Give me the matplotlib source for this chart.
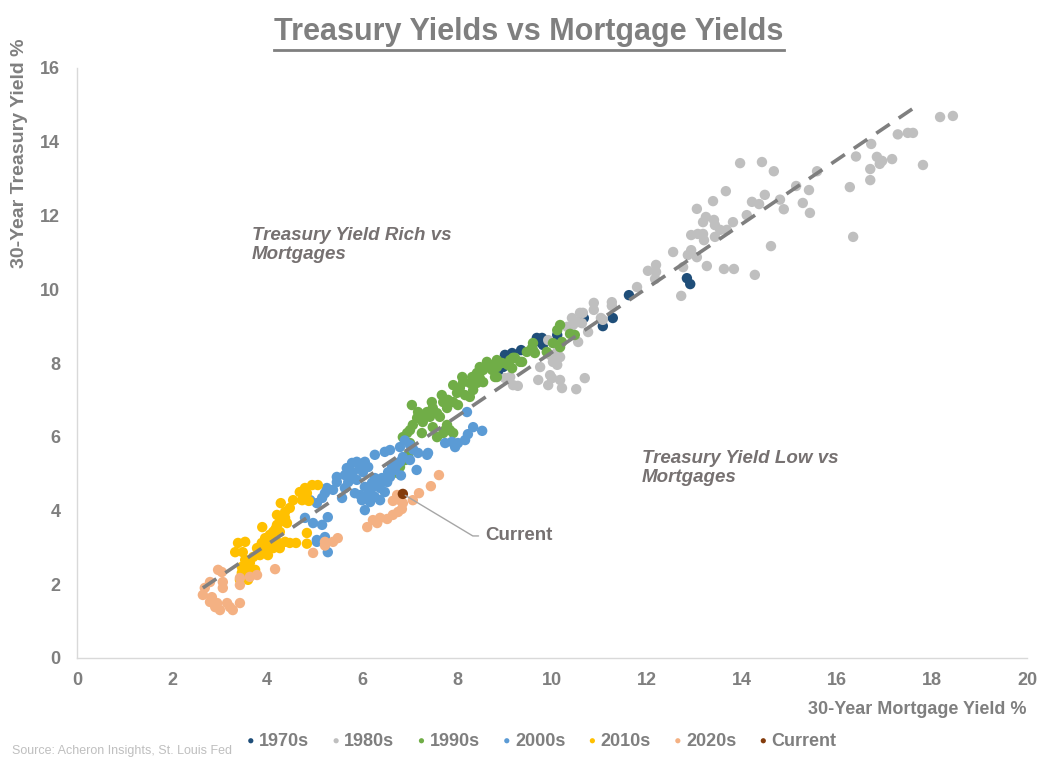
import matplotlib
matplotlib.use("Agg")
import matplotlib.pyplot as plt
from matplotlib.lines import Line2D

plt.rcParams['font.family'] = ['Liberation Sans Narrow', 'Liberation Sans', 'DejaVu Sans']

GREY = "#7f7f7f"

# 30-year mortgage yield (x) vs 30-year treasury yield (y)
x70 = [12.84, 12.91, 11.62, 11.28, 11.07, 10.67, 10.11, 9.79, 9.75, 9.81, 9.35, 9.16, 9.01, 8.97, 8.86, 9.68]
y70 = [10.30, 10.14, 9.84, 9.22, 9.00, 9.22, 8.76, 8.68, 8.57, 8.49, 8.35, 8.27, 8.22, 7.89, 7.73, 8.68]

x80 = [18.17, 18.44, 17.28, 17.49, 17.6, 17.81, 16.72, 16.4, 16.84, 16.9,
       16.95, 17.16, 16.7, 16.7, 16.27, 16.34, 15.58, 15.41, 15.28, 15.43,
       15.14, 14.88, 14.8, 14.61, 14.27, 14.42, 13.96, 14.67, 14.48, 14.21,
       14.36, 14.1, 13.66, 13.39, 13.81, 13.05, 13.18, 13.24, 13.41, 13.43,
       13.54, 13.68, 12.93, 13.07, 13.18, 13.2, 13.43, 12.93, 12.55, 12.86,
       13.05, 13.26, 13.62, 13.83, 12.76, 12.19, 12.02, 12.19, 12.17, 12.72,
       11.79, 11.26, 11.26, 10.88, 10.88, 11.07, 10.76, 10.59, 10.53, 10.42,
       10.44, 10.63, 10.32, 10.55, 9.92, 9.96, 10.11, 10.17, 10.02, 10.11,
       9.75, 9.96, 10.0, 10.17, 9.71, 9.92, 10.21, 10.51, 10.69, 9.18,
       9.28, 9.12, 9.01, 10.65, 11.03]
y80 = [14.67, 14.70, 14.2, 14.24, 14.24, 13.37, 13.94, 13.6, 13.59, 13.4,
       13.48, 13.53, 13.26, 12.96, 12.77, 11.42, 13.2, 12.69, 12.34, 12.07,
       12.8, 12.17, 12.43, 11.17, 10.39, 13.45, 13.42, 13.2, 12.56, 12.37,
       12.31, 12.01, 12.66, 12.39, 11.82, 12.18, 11.82, 11.96, 11.88, 11.74,
       11.61, 11.61, 11.47, 11.5, 11.5, 11.33, 11.42, 11.06, 11.01, 10.93,
       10.87, 10.63, 10.55, 10.55, 10.6, 10.66, 10.5, 10.47, 10.28, 9.82,
       10.06, 9.65, 9.55, 9.63, 9.44, 9.17, 8.84, 9.36, 9.11, 9.22,
       9.03, 9.08, 8.98, 8.57, 8.62, 8.22, 8.3, 8.16, 8.03, 7.95,
       7.89, 7.67, 7.59, 7.54, 7.54, 7.4, 7.32, 7.29, 7.59, 7.4,
       7.38, 7.62, 7.59, 9.36, 9.22]

x90 = [10.17, 10.11, 10.38, 10.48, 10.21, 10.17, 10.02, 9.6, 9.6, 9.47,
       9.89, 9.22, 9.37, 8.84, 8.76, 8.95, 9.16, 8.84, 9.12, 9.58,
       9.64, 9.18, 9.33, 8.91, 9.07, 8.69, 8.84, 8.55, 8.74, 8.8,
       8.42, 8.48, 8.32, 8.11, 8.13, 8.27, 8.42, 8.55, 7.92, 8.06,
       8.34, 8.0, 8.17, 8.27, 7.68, 7.81, 7.47, 7.71, 7.92, 8.02,
       7.49, 7.79, 7.37, 7.18, 7.58, 7.43, 7.16, 7.64, 7.28, 7.07,
       7.49, 7.01, 7.79, 7.85, 7.92, 7.71, 6.86, 7.58, 8.48, 8.63,
       7.75, 7.26, 6.95, 7.01, 6.97, 6.91, 6.8, 6.74, 7.05, 7.3]
y90 = [9.03, 8.89, 8.79, 8.76, 8.57, 8.43, 8.54, 8.54, 8.35, 8.3,
       8.3, 8.14, 8.03, 8.08, 7.95, 8.0, 7.86, 7.62, 8.08, 8.41,
       8.27, 8.14, 8.03, 8.0, 7.95, 7.95, 7.89, 7.81, 7.81, 7.62,
       7.73, 7.59, 7.62, 7.62, 7.48, 7.46, 7.46, 7.48, 7.4, 7.32,
       7.27, 7.19, 7.13, 7.08, 7.13, 7.0, 6.94, 6.94, 6.94, 6.86,
       6.78, 6.78, 6.67, 6.67, 6.64, 6.54, 6.51, 6.54, 6.4, 6.32,
       6.26, 6.18, 6.32, 6.18, 6.1, 6.1, 5.99, 5.99, 7.89, 8.03,
       6.18, 6.1, 6.1, 5.83, 5.51, 5.37, 5.18, 5.02, 6.86, 6.6]

x00 = [8.21, 8.34, 8.53, 8.23, 8.17, 8.02, 7.89, 7.75, 7.96, 7.39,
       7.37, 7.18, 7.01, 6.8, 6.59, 6.48, 6.86, 7.01, 6.8, 6.63,
       6.69, 6.55, 6.27, 6.06, 5.89, 5.79, 5.68, 5.96, 6.13, 5.81,
       6.02, 5.64, 5.75, 5.47, 5.47, 5.71, 5.89, 6.27, 6.42, 6.21,
       6.34, 6.53, 6.59, 6.06, 6.21, 6.38, 6.48, 5.64, 5.39, 5.58,
       5.85, 5.96, 6.13, 6.27, 6.0, 6.17, 6.38, 5.22, 5.16, 5.26,
       5.05, 4.91, 6.06, 4.8, 4.97, 5.16, 5.28, 5.05, 5.22, 5.05,
       5.28, 7.08, 6.9, 6.74, 7.15, 6.82]
y00 = [6.67, 6.26, 6.16, 6.07, 5.91, 5.83, 5.86, 5.83, 5.72, 5.56,
       5.51, 5.56, 5.78, 5.72, 5.64, 5.59, 5.45, 5.37, 5.32, 5.23,
       5.1, 5.04, 5.51, 5.32, 5.32, 5.29, 5.15, 5.18, 5.18, 5.04,
       5.04, 4.96, 4.88, 4.91, 4.77, 4.77, 4.83, 4.88, 4.88, 4.75,
       4.75, 4.77, 4.91, 4.64, 4.61, 4.61, 4.5, 4.61, 4.56, 4.34,
       4.47, 4.42, 4.42, 4.37, 4.28, 4.23, 4.28, 4.47, 4.34, 4.61,
       4.2, 4.28, 4.01, 3.8, 3.66, 3.61, 3.82, 3.2, 3.28, 3.15,
       2.87, 5.65, 5.9, 5.25, 5.1, 4.95]

x10 = [5.07, 4.95, 4.8, 4.84, 4.69, 4.55, 4.74, 4.88, 4.29, 4.48,
       4.38, 4.21, 4.38, 4.27, 4.42, 4.21, 4.13, 4.27, 4.06, 3.96,
       4.11, 3.89, 4.02, 4.21, 4.38, 4.48, 4.61, 4.84, 3.79, 3.96,
       4.13, 4.27, 3.85, 4.02, 3.71, 3.39, 3.54, 3.33, 3.49, 3.54,
       3.64, 3.47, 3.6, 3.75, 3.47, 3.58, 3.6, 3.43, 3.71, 4.84,
       4.18, 3.9]
y10 = [4.69, 4.69, 4.61, 4.47, 4.5, 4.28, 4.28, 4.26, 4.2, 4.07,
       3.96, 3.88, 3.8, 3.69, 3.66, 3.61, 3.42, 3.42, 3.34, 3.25,
       3.2, 3.12, 3.06, 3.15, 3.15, 3.12, 3.12, 3.39, 2.98, 2.93,
       2.98, 2.98, 2.79, 2.79, 2.74, 3.12, 3.15, 2.87, 2.87, 2.66,
       2.58, 2.47, 2.39, 2.39, 2.31, 2.2, 2.12, 2.12, 2.31, 3.1,
       3.5, 3.55]

x20 = [2.97, 3.05, 2.8, 3.07, 2.69, 3.07, 2.65, 2.84, 2.8, 2.95,
       2.91, 3.01, 3.16, 3.22, 3.28, 3.43, 3.43, 3.43, 3.64, 3.79,
       4.17, 4.97, 5.22, 5.39, 5.49, 6.11, 6.23, 6.38, 6.53, 6.32,
       6.65, 6.76, 6.84, 6.86, 6.8, 6.65, 6.74, 7.07, 7.2, 7.45,
       7.62, 5.22]
y20 = [2.39, 2.33, 2.06, 2.06, 1.9, 1.9, 1.71, 1.65, 1.52, 1.49,
       1.38, 1.3, 1.49, 1.38, 1.3, 1.49, 2.17, 1.98, 2.2, 2.25,
       2.41, 2.85, 3.15, 3.15, 3.25, 3.55, 3.74, 3.8, 3.77, 3.66,
       3.88, 3.96, 4.04, 4.2, 4.28, 4.26, 4.42, 4.28, 4.47, 4.66,
       4.96, 3.05]

cur_x = [6.86]
cur_y = [4.45]

trend_x = [2.65, 17.77]
trend_y = [1.9, 15.05]

series = [
    ("1970s", x70, y70, "#1f4e79"),
    ("1980s", x80, y80, "#bfbfbf"),
    ("1990s", x90, y90, "#70ad47"),
    ("2000s", x00, y00, "#5b9bd5"),
    ("2010s", x10, y10, "#ffc000"),
    ("2020s", x20, y20, "#f4b183"),
    ("Current", cur_x, cur_y, "#843c0c"),
]

fig = plt.figure(figsize=(10.58, 7.69), dpi=100)
ax = fig.add_axes([77 / 1058, 1 - 658 / 769, 950 / 1058, 590 / 769])

for name, xs, ys, col in series:
    ax.scatter(xs, ys, s=56, color=col, edgecolors="none", label=name)

ax.plot(trend_x, trend_y, color=GREY, lw=2.6, dashes=(4.5, 3), zorder=5)

ax.set_xlim(0, 20)
ax.set_ylim(0, 16)
ax.set_xticks(range(0, 21, 2))
ax.set_yticks(range(0, 17, 2))
ax.tick_params(length=0, labelsize=13, labelcolor=GREY)
ax.tick_params(axis="y", pad=12)
ax.tick_params(axis="x", pad=10)
for lab in ax.get_xticklabels() + ax.get_yticklabels():
    lab.set_fontweight("bold")
for s in ["top", "right"]:
    ax.spines[s].set_visible(False)
for s in ["left", "bottom"]:
    ax.spines[s].set_color("#d9d9d9")
    ax.spines[s].set_linewidth(1)

# region labels
ax.text(3.68, 11.7, "Treasury Yield Rich vs\nMortgages", fontsize=13.5, style="italic",
        fontweight="bold", color="#767171", va="top", ha="left", linespacing=1.15)
ax.text(11.89, 5.65, "Treasury Yield Low vs\nMortgages", fontsize=13.5, style="italic",
        fontweight="bold", color="#767171", va="top", ha="left", linespacing=1.15)

ax.annotate("Current", xy=(cur_x[0], cur_y[0]), xytext=(8.6, 3.31),
            fontsize=13.5, color="#767171", fontweight="bold", va="center", ha="left",
            arrowprops=dict(arrowstyle="-", color="#a6a6a6", lw=1,
                            connectionstyle="angle,angleA=180,angleB=149,rad=0",
                            shrinkA=3, shrinkB=2))

# title with underline
title = fig.text(0.5, 1 - 32 / 769, "Treasury Yields vs Mortgage Yields", fontsize=22,
                 fontweight="bold", color=GREY, ha="center", va="center")

fig.text(20 / 1058, 1 - 38 / 769, "30-Year Treasury Yield %", rotation=90, fontsize=14,
         fontweight="bold", color=GREY, ha="center", va="top")
fig.text(1027 / 1058, 1 - 710 / 769, "30-Year Mortgage Yield %", fontsize=13,
         fontweight="bold", color=GREY, ha="right", va="center")
fig.text(12 / 1058, 1 - 751 / 769, "Source: Acheron Insights, St. Louis Fed", fontsize=9,
         color="#bfbfbf", ha="left", va="center")

leg = fig.legend(loc="center", bbox_to_anchor=(540 / 1058, 1 - 741 / 769), ncol=7,
                 frameon=False, fontsize=13, handletextpad=0.05, columnspacing=1.1,
                 markerscale=0.5, handlelength=0.8, borderaxespad=0)
for t in leg.get_texts():
    t.set_color(GREY)
    t.set_fontweight("bold")

fig.canvas.draw()
bb = title.get_window_extent(fig.canvas.get_renderer())
uy = (bb.y0 - 3) / fig.bbox.height
fig.add_artist(Line2D([bb.x0 / fig.bbox.width, bb.x1 / fig.bbox.width], [uy, uy],
                      color=GREY, lw=2))

fig.savefig("out.png", dpi=100)
